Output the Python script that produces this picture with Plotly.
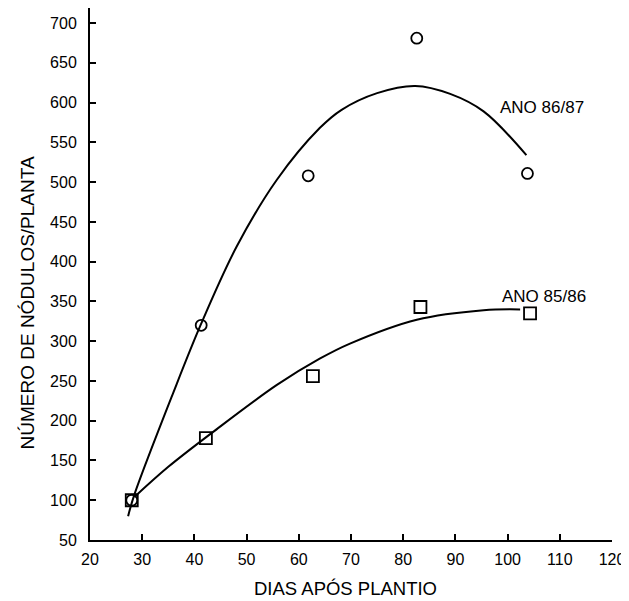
import plotly.graph_objects as go

# Observed data
dias_8687 = [28, 41.3, 61.8, 82.6, 103.8]
nod_8687 = [100, 320, 508, 681, 511]
dias_8586 = [28, 42.2, 62.7, 83.3, 104.3]
nod_8586 = [100, 178, 256, 343, 335]

# Fitted curves
curve_x_8687 = [27.3, 28.5, 36, 41.3, 48.1, 55.8, 64, 68.2, 75, 82.3, 89, 95.4, 103.6]
curve_y_8687 = [80, 107, 236, 322, 419, 503, 568, 591, 612, 621, 611, 589, 534]
curve_x_8586 = [28.5, 35, 43.6, 55.8, 64, 69.8, 82.6, 95.4, 102.4]
curve_y_8586 = [104, 142, 186, 245, 278, 297, 327, 339, 340]

label_8687 = "ANO 86/87"
label_8586 = "ANO 85/86"
x_ticks = [20, 30, 40, 50, 60, 70, 80, 90, 100, 110, 120]
y_ticks = [50, 100, 150, 200, 250, 300, 350, 400, 450, 500, 550, 600, 650, 700]

FONT = "Liberation Sans"
fig = go.Figure()
fig.add_trace(go.Scatter(x=curve_x_8687, y=curve_y_8687, mode="lines",
                         line=dict(color="black", width=2, shape="spline"), showlegend=False))
fig.add_trace(go.Scatter(x=curve_x_8586, y=curve_y_8586, mode="lines",
                         line=dict(color="black", width=2, shape="spline"), showlegend=False))
fig.add_trace(go.Scatter(x=dias_8687, y=nod_8687, mode="markers",
                         marker=dict(symbol="circle-open", size=11, color="black", line=dict(width=1.8)),
                         showlegend=False))
fig.add_trace(go.Scatter(x=dias_8586, y=nod_8586, mode="markers",
                         marker=dict(symbol="square-open", size=12, color="black", line=dict(width=1.8)),
                         showlegend=False))

fig.add_annotation(x=98.2, y=594, text=label_8687, showarrow=False, xanchor="left",
                   font=dict(family=FONT, size=17, color="black"))
fig.add_annotation(x=98.6, y=356, text=label_8586, showarrow=False, xanchor="left",
                   font=dict(family=FONT, size=17, color="black"))
fig.add_annotation(xref="paper", yref="paper", x=-0.1197, y=0.4455, xanchor="center", yanchor="middle",
                   text="NÚMERO DE NÓDULOS/PLANTA",
                   textangle=-90, showarrow=False, font=dict(family=FONT, size=19, color="black"))
fig.add_annotation(xref="paper", yref="paper", x=0.4904, y=-0.0921, xanchor="center", yanchor="middle",
                   text="DIAS APÓS PLANTIO",
                   showarrow=False, font=dict(family=FONT, size=18.5, color="black"))

fig.update_xaxes(range=[20, 120], tickvals=x_ticks, ticks="inside", ticklen=6, tickwidth=1.5,
                 tickcolor="black", showline=True, linecolor="black", linewidth=2, showgrid=False,
                 zeroline=False, ticklabelstandoff=4, tickfont=dict(family=FONT, size=16, color="black"))
fig.update_yaxes(range=[50, 719], tickvals=y_ticks, ticks="inside", ticklen=6, tickwidth=1.5,
                 tickcolor="black", showline=True, linecolor="black", linewidth=2, showgrid=False,
                 zeroline=False, ticklabelstandoff=8, tickfont=dict(family=FONT, size=16, color="black"))
fig.update_layout(width=621, height=593, margin=dict(l=82, r=17, t=0, b=61),
                  plot_bgcolor="white", paper_bgcolor="white")
fig.write_html("out.html")
